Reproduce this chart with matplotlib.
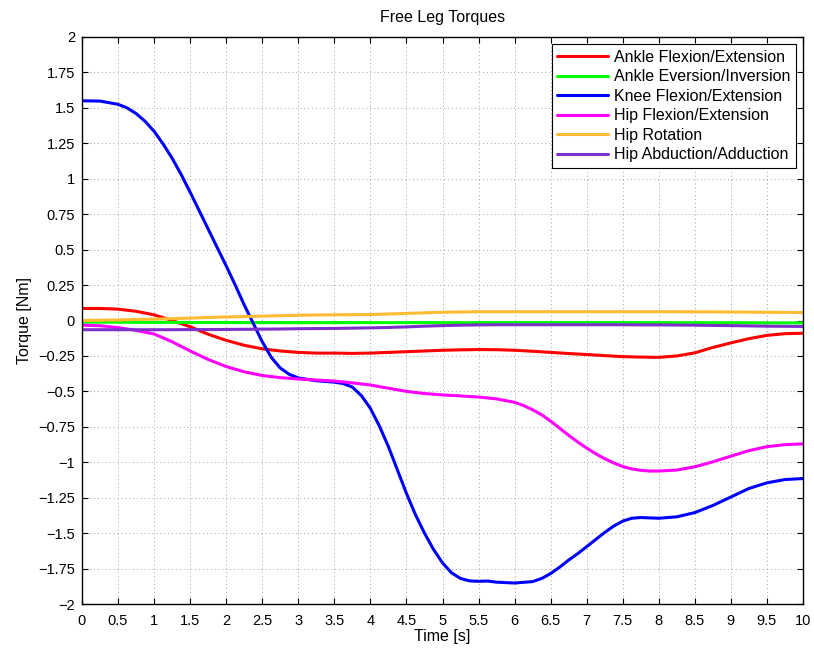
import matplotlib
matplotlib.use("Agg")
import matplotlib.pyplot as plt
from matplotlib.ticker import FuncFormatter

plt.rcParams['font.family'] = ['Liberation Sans', 'DejaVu Sans']

# common time grid (s) for the gently varying series
t = [0, 0.25, 0.5, 0.75, 1.0, 1.25, 1.5, 1.75, 2.0, 2.25, 2.5, 2.75, 3.0, 3.25, 3.5, 3.75,
     4.0, 4.25, 4.5, 4.75, 5.0, 5.25, 5.5, 5.75, 6.0, 6.25, 6.5, 6.75, 7.0, 7.25, 7.5, 7.75,
     8.0, 8.25, 8.5, 8.75, 9.0, 9.25, 9.5, 9.75, 10.0]

ankle_flex = [0.085, 0.085, 0.08, 0.065, 0.04, 0.0, -0.044, -0.097, -0.14, -0.175, -0.20, -0.215,
              -0.225, -0.23, -0.23, -0.232, -0.23, -0.225, -0.22, -0.215, -0.21, -0.207, -0.205,
              -0.206, -0.21, -0.217, -0.225, -0.233, -0.24, -0.248, -0.255, -0.258, -0.26, -0.25,
              -0.228, -0.19, -0.158, -0.128, -0.105, -0.093, -0.09]

ankle_ev = [-0.012, -0.012, -0.012, -0.013, -0.013, -0.013, -0.014, -0.014, -0.014, -0.015, -0.015,
            -0.015, -0.015, -0.015, -0.015, -0.015, -0.015, -0.015, -0.015, -0.015, -0.015, -0.015,
            -0.015, -0.015, -0.015, -0.015, -0.015, -0.015, -0.015, -0.015, -0.015, -0.015, -0.015,
            -0.015, -0.015, -0.016, -0.016, -0.016, -0.017, -0.017, -0.017]

hip_rot = [0.0, 0.002, 0.004, 0.007, 0.01, 0.013, 0.017, 0.021, 0.025, 0.028, 0.031, 0.034,
           0.037, 0.039, 0.04, 0.041, 0.042, 0.046, 0.05, 0.054, 0.058, 0.06, 0.062, 0.062, 0.062,
           0.062, 0.062, 0.062, 0.062, 0.062, 0.062, 0.062, 0.062, 0.062, 0.061, 0.061, 0.06,
           0.059, 0.058, 0.057, 0.056]

hip_abd = [-0.065, -0.065, -0.065, -0.065, -0.065, -0.065, -0.064, -0.064, -0.063, -0.062, -0.061,
           -0.06, -0.058, -0.057, -0.056, -0.054, -0.052, -0.049, -0.045, -0.04, -0.036, -0.033,
           -0.031, -0.03, -0.03, -0.03, -0.03, -0.03, -0.03, -0.03, -0.03, -0.031, -0.031, -0.032,
           -0.033, -0.035, -0.036, -0.038, -0.04, -0.041, -0.042]

# denser readings for the strongly curved series
t_knee = [0, 0.25, 0.5, 0.625, 0.75, 0.875, 1.0, 1.125, 1.25, 1.375, 1.5, 1.625, 1.75, 1.875,
          2.0, 2.125, 2.25, 2.375, 2.5, 2.625, 2.75, 2.875, 3.0, 3.25, 3.5, 3.625, 3.75, 3.875,
          4.0, 4.125, 4.25, 4.375, 4.5, 4.625, 4.75, 4.875, 5.0, 5.125, 5.25, 5.375, 5.5, 5.625,
          5.75, 6.0, 6.25, 6.375, 6.5, 6.625, 6.75, 6.875, 7.0, 7.125, 7.25, 7.375, 7.5, 7.625,
          7.75, 8.0, 8.25, 8.5, 8.75, 9.0, 9.25, 9.5, 9.75, 10.0]
knee_flex = [1.55, 1.548, 1.525, 1.50, 1.46, 1.405, 1.335, 1.245, 1.145, 1.03, 0.905, 0.775,
             0.645, 0.515, 0.385, 0.25, 0.11, -0.02, -0.15, -0.26, -0.335, -0.38, -0.405, -0.425,
             -0.435, -0.445, -0.47, -0.53, -0.62, -0.745, -0.89, -1.055, -1.22, -1.37, -1.50,
             -1.615, -1.71, -1.78, -1.82, -1.837, -1.84, -1.838, -1.846, -1.852, -1.842, -1.82,
             -1.785, -1.74, -1.69, -1.645, -1.595, -1.545, -1.495, -1.45, -1.415, -1.395, -1.39,
             -1.395, -1.385, -1.355, -1.305, -1.245, -1.185, -1.145, -1.122, -1.115]

t_hip = [0, 0.25, 0.5, 0.75, 1.0, 1.25, 1.5, 1.75, 2.0, 2.25, 2.5, 2.75, 3.0, 3.25, 3.5, 3.75,
         4.0, 4.25, 4.5, 4.75, 5.0, 5.25, 5.5, 5.75, 6.0, 6.125, 6.25, 6.375, 6.5, 6.625, 6.75,
         6.875, 7.0, 7.125, 7.25, 7.375, 7.5, 7.625, 7.75, 7.875, 8.0, 8.25, 8.5, 8.75, 9.0,
         9.25, 9.5, 9.75, 10.0]
hip_flex = [-0.033, -0.037, -0.05, -0.07, -0.095, -0.15, -0.215, -0.275, -0.325, -0.362, -0.388,
            -0.403, -0.413, -0.42, -0.427, -0.44, -0.455, -0.478, -0.50, -0.515, -0.525, -0.532,
            -0.54, -0.553, -0.577, -0.60, -0.63, -0.665, -0.71, -0.76, -0.81, -0.857, -0.90,
            -0.94, -0.975, -1.005, -1.03, -1.047, -1.057, -1.062, -1.062, -1.055, -1.032, -0.997,
            -0.957, -0.918, -0.89, -0.876, -0.87]

labels = ["Ankle Flexion/Extension", "Ankle Eversion/Inversion", "Knee Flexion/Extension",
          "Hip Flexion/Extension", "Hip Rotation", "Hip Abduction/Adduction"]
colors = ["#ff0000", "#00ff00", "#0000ff", "#ff00ff", "#ffbb33", "#7f2fcc"]
series = [(t, ankle_flex), (t, ankle_ev), (t_knee, knee_flex), (t_hip, hip_flex),
          (t, hip_rot), (t, hip_abd)]

x_ticks = [i * 0.5 for i in range(21)]
y_ticks = [-2 + i * 0.25 for i in range(17)]

fig = plt.figure(figsize=(8.14, 6.49), dpi=100)
ax = fig.add_axes([82 / 814, 45 / 649, 721 / 814, 567 / 649])

for (xs, ys), c, lab in zip(series, colors, labels):
    ax.plot(xs, ys, color=c, lw=2.2, label=lab, solid_joinstyle='round',
            solid_capstyle='round')

ax.set_xlim(0, 10)
ax.set_ylim(-2, 2)
ax.set_xticks(x_ticks)
ax.set_yticks(y_ticks)
fmt = FuncFormatter(lambda v, p: ('%g' % v).replace('-', '\u2212'))
ax.xaxis.set_major_formatter(fmt)
ax.yaxis.set_major_formatter(fmt)
ax.tick_params(direction='in', length=4.5, width=0.8, top=True, right=True,
               labelsize=10.5)
ax.tick_params(axis='x', pad=7)
ax.tick_params(axis='y', pad=5)
ax.grid(True, linestyle=(0, (1, 3)), color='#a0a0a0', linewidth=0.7)
for s in ax.spines.values():
    s.set_linewidth(1.0)
    s.set_color('black')

ax.set_title("Free Leg Torques", fontsize=11.5, pad=11)
ax.set_xlabel("Time [s]", fontsize=11.5, labelpad=1)
ax.set_ylabel("Torque [Nm]", fontsize=11.5, labelpad=4)

leg = ax.legend(loc='upper right', fontsize=11.5, frameon=True, fancybox=False,
                edgecolor='black', framealpha=1, borderpad=0.35, labelspacing=0.28,
                handlelength=3.2, handletextpad=0.35, borderaxespad=0.45)
leg.get_frame().set_linewidth(0.8)

fig.savefig("out.png", dpi=100)
